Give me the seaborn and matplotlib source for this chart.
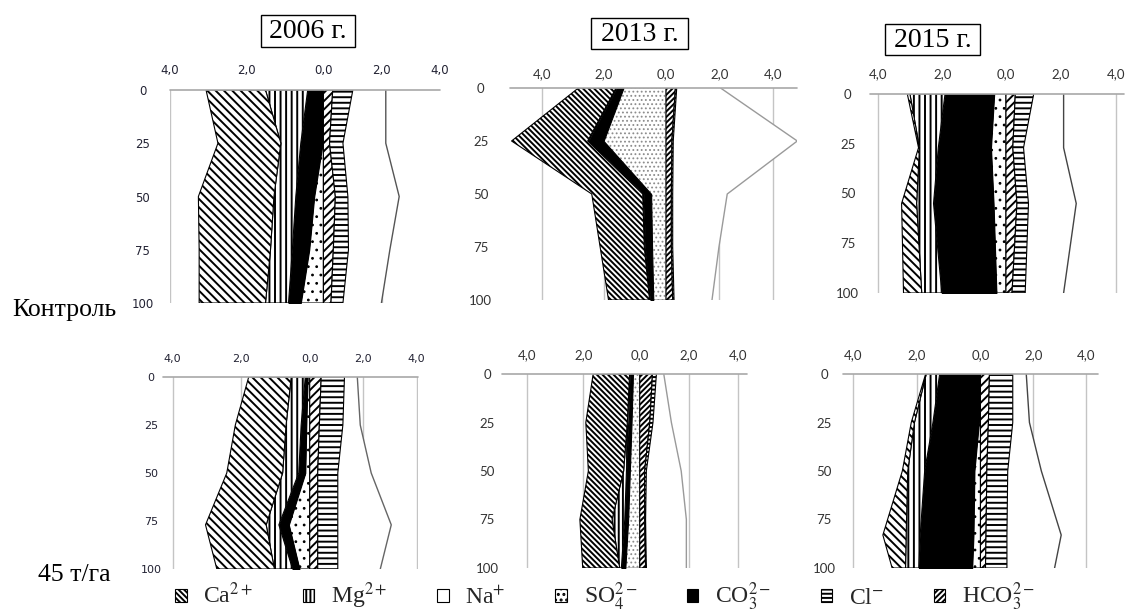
import numpy as np
import pandas as pd
import matplotlib
matplotlib.use("Agg")
import matplotlib.pyplot as plt
import seaborn as sns
from matplotlib.patches import Patch, Rectangle
from matplotlib.ticker import FixedLocator, FuncFormatter

# ------------------------------------------------------------------ data
years = ["2006 г.", "2013 г.", "2015 г."]
row_labels = ["Контроль", "45 т/га"]
ion_keys = ["ca", "mg", "na", "so4", "co3", "cl", "hco3"]
ion_labels = [r"Ca$^{2+}$", r"Mg$^{2+}$", r"Na$^{+}$", r"SO$_4^{2-}$",
              r"CO$_3^{2-}$", r"Cl$^{-}$", r"HCO$_3^{2-}$"]
x_tick_values = [-4, -2, 0, 2, 4]
depth_ticks = [0, 25, 50, 75, 100]

# Контроль, 2006
depth_k06 = [0, 25, 50, 75, 100]
so4_k06 = [0.00, 0.02, 0.24, 0.37, 0.59]
co3_k06 = [0.41, 0.57, 0.48, 0.44, 0.32]
mg_k06 = [1.10, 0.52, 0.57, 0.57, 0.60]
ca_k06 = [1.55, 1.64, 1.97, 1.86, 1.73]
hco3_k06 = [0.32, 0.21, 0.41, 0.34, 0.26]
cl_k06 = [0.69, 0.46, 0.43, 0.52, 0.41]
na_k06 = [1.13, 1.47, 1.76, 1.42, 1.32]

# Контроль, 2013
depth_k13 = [0, 25, 50, 75, 100]
so4_k13 = [1.37, 2.01, 0.48, 0.45, 0.41]
co3_k13 = [0.21, 0.48, 0.24, 0.22, 0.09]
mg_k13 = [0.03, 0.03, 0.03, 0.03, 0.03]
ca_k13 = [1.21, 2.45, 1.64, 1.42, 1.32]
hco3_k13 = [0.35, 0.22, 0.20, 0.20, 0.25]
cl_k13 = [0.05, 0.05, 0.05, 0.05, 0.05]
na_k13 = [1.64, 4.64, 2.04, 1.73, 1.42]

# Контроль, 2015
depth_k15 = [0, 27, 55, 100]
so4_k15 = [0.37, 0.47, 0.39, 0.30]
co3_k15 = [1.54, 1.65, 1.88, 1.71]
mg_k15 = [1.10, 0.59, 0.53, 0.63]
ca_k15 = [0.08, 0.03, 0.47, 0.57]
hco3_k15 = [0.34, 0.25, 0.40, 0.22]
cl_k15 = [0.67, 0.39, 0.42, 0.48]
na_k15 = [1.09, 1.46, 1.74, 1.40]

# 45 т/га, 2006
depth_t06 = [0, 25, 50, 77, 100]
so4_t06 = [0.06, 0.10, 0.13, 0.61, 0.30]
co3_t06 = [0.07, 0.15, 0.19, 0.29, 0.20]
mg_t06 = [0.41, 0.44, 0.47, 0.37, 0.53]
ca_t06 = [1.24, 1.48, 1.63, 1.77, 1.68]
hco3_t06 = [0.43, 0.36, 0.30, 0.30, 0.30]
cl_t06 = [0.87, 0.88, 0.75, 0.75, 0.75]
na_t06 = [0.48, 0.65, 1.25, 2.00, 1.59]

# 45 т/га, 2013
depth_t13 = [0, 25, 50, 75, 100]
so4_t13 = [0.24, 0.29, 0.35, 0.41, 0.51]
co3_t13 = [0.09, 0.10, 0.12, 0.12, 0.14]
mg_t13 = [0.03, 0.05, 0.10, 0.45, 0.06]
ca_t13 = [1.29, 1.47, 1.25, 1.14, 1.31]
hco3_t13 = [0.52, 0.41, 0.20, 0.20, 0.24]
cl_t13 = [0.16, 0.13, 0.07, 0.04, 0.03]
na_t13 = [0.30, 0.75, 1.42, 1.66, 1.63]

# 45 т/га, 2015
depth_t15 = [0, 25, 50, 83, 100]
so4_t15 = [0.02, 0.05, 0.19, 0.22, 0.26]
co3_t15 = [1.26, 1.44, 1.56, 1.67, 1.67]
mg_t15 = [0.42, 0.58, 0.53, 0.44, 0.42]
ca_t15 = [0.02, 0.10, 0.17, 0.73, 0.42]
hco3_t15 = [0.34, 0.30, 0.24, 0.21, 0.19]
cl_t15 = [0.88, 0.92, 0.79, 0.79, 0.81]
na_t15 = [0.51, 0.63, 1.27, 2.05, 1.80]


def panel_frame(depth, ca, mg, na, so4, co3, cl, hco3):
    return pd.DataFrame({"depth": depth, "ca": ca, "mg": mg, "na": na, "so4": so4,
                         "co3": co3, "cl": cl, "hco3": hco3})


panels = {
    "k06": panel_frame(depth_k06, ca_k06, mg_k06, na_k06, so4_k06, co3_k06, cl_k06, hco3_k06),
    "k13": panel_frame(depth_k13, ca_k13, mg_k13, na_k13, so4_k13, co3_k13, cl_k13, hco3_k13),
    "k15": panel_frame(depth_k15, ca_k15, mg_k15, na_k15, so4_k15, co3_k15, cl_k15, hco3_k15),
    "t06": panel_frame(depth_t06, ca_t06, mg_t06, na_t06, so4_t06, co3_t06, cl_t06, hco3_t06),
    "t13": panel_frame(depth_t13, ca_t13, mg_t13, na_t13, so4_t13, co3_t13, cl_t13, hco3_t13),
    "t15": panel_frame(depth_t15, ca_t15, mg_t15, na_t15, so4_t15, co3_t15, cl_t15, hco3_t15),
}

# ------------------------------------------------------------------ layout / style
W, H = 1126, 616
layout = {
    "k06": dict(box=(170, 440, 90, 303), xlim=(-4.0, 4.0), R=0.76, font="DejaVu Sans", fs=8.5,
                xpad=9.4, ypad=19.5, na_color="#555555", dense=False, tcolor="#222233"),
    "k13": dict(box=(510, 797, 88, 300), xlim=(-5.02, 4.9), R=0.86, font="Lato", fs=9.5,
                xpad=5.8, ypad=21, na_color="#9a9a9a", dense=True, tcolor="#333333"),
    "k15": dict(box=(870, 1124, 94, 293), xlim=(-4.26, 4.3), R=0.86, font="Lato", fs=9.5,
                xpad=10, ypad=16, na_color="#444444", dense=False, tcolor="#333333"),
    "t06": dict(box=(163, 418, 377, 569), xlim=(-4.28, 4.05), R=0.78, font="DejaVu Sans", fs=8,
                xpad=9.4, ypad=8.6, na_color="#666666", dense=False, tcolor="#222233"),
    "t13": dict(box=(502, 747, 374, 568), xlim=(-4.88, 4.37), R=0.87, font="Lato", fs=9.5,
                xpad=9, ypad=10.8, na_color="#9a9a9a", dense=True, tcolor="#333333"),
    "t15": dict(box=(843, 1098, 374, 568), xlim=(-4.31, 4.44), R=0.83, font="Lato", fs=9.5,
                xpad=9, ypad=13.7, na_color="#444444", dense=False, tcolor="#333333"),
}

ion_style = {
    "ca": dict(fc="white", hatch="\\\\\\\\", dense_hatch="\\\\\\\\\\\\"),
    "mg": dict(fc="white", hatch="|||", dense_hatch="||||"),
    "na": dict(fc="white", hatch=None, dense_hatch=None),
    "so4": dict(fc="white", hatch="..", dense_hatch="...."),
    "co3": dict(fc="black", hatch=None, dense_hatch=None),
    "cl": dict(fc="white", hatch="---", dense_hatch="----"),
    "hco3": dict(fc="white", hatch="////", dense_hatch="//////"),
}

sns.set_theme(style="white")
plt.rcParams["font.family"] = ["Liberation Serif", "DejaVu Serif"]
plt.rcParams["mathtext.fontset"] = "stix"
plt.rcParams["hatch.linewidth"] = 1.4
plt.rcParams["hatch.color"] = "black"

fig = plt.figure(figsize=(W / 100, H / 100), dpi=100)
fig.patch.set_facecolor("white")


def make_scale(R):
    def fwd(x):
        x = np.asarray(x, dtype=float)
        return np.where(x < 0, x, x * R)

    def inv(y):
        y = np.asarray(y, dtype=float)
        return np.where(y < 0, y, y / R)
    return fwd, inv


def draw_panel(key):
    df = panels[key]
    cfg = layout[key]
    l, r, t, b = cfg["box"]
    ax = fig.add_axes([l / W, 1 - b / H, (r - l) / W, (b - t) / H])
    ax.set_facecolor("none")
    ax.set_xscale("function", functions=make_scale(cfg["R"]))
    ax.set_xlim(*cfg["xlim"])
    ax.set_ylim(100, 0)
    for s in ax.spines.values():
        s.set_visible(False)
    ax.grid(False)

    for gx in [-4, -2, 2, 4]:
        if cfg["xlim"][0] - 1e-6 <= gx < cfg["xlim"][1] - 0.02:
            ax.plot([gx, gx], [0, 100], color="#c4c4c4", lw=1.0, zorder=0)

    hkey = "dense_hatch" if cfg["dense"] else "hatch"
    d = df["depth"].to_numpy(dtype=float)
    inner = np.zeros_like(d)
    for ion in ["so4", "co3", "mg", "ca"]:
        outer = inner + df[ion].to_numpy(dtype=float)
        st = ion_style[ion]
        ec = "#8c8c8c" if (ion == "so4" and cfg["dense"]) else "black"
        with plt.rc_context({"hatch.color": ec,
                             "hatch.linewidth": 0.8 if ion == "so4" else 1.4}):
            ax.fill_betweenx(d, -inner, -outer, facecolor=st["fc"], edgecolor=ec,
                             hatch=st[hkey], lw=0.8, zorder=2)
        inner = outer
    inner = np.zeros_like(d)
    for ion in ["hco3", "cl", "na"]:
        outer = inner + df[ion].to_numpy(dtype=float)
        st = ion_style[ion]
        if ion == "na":
            ax.fill_betweenx(d, inner, outer, facecolor="white", edgecolor="none",
                             lw=0, zorder=1)
            sns.lineplot(x=outer, y=d, orient="y", sort=False, estimator=None, ax=ax,
                         color=cfg["na_color"], lw=1.0, zorder=3, legend=False)
        else:
            ax.fill_betweenx(d, inner, outer, facecolor=st["fc"], edgecolor="black",
                             hatch=st[hkey], lw=0.8, zorder=2)
        inner = outer

    ax.plot([cfg["xlim"][0], cfg["xlim"][1]], [0, 0], color="#a8a8a8", lw=1.2,
            zorder=4, clip_on=False)
    ax.set_xlim(*cfg["xlim"])
    ax.set_ylim(100, 0)

    ax.xaxis.tick_top()
    ax.xaxis.set_major_locator(FixedLocator(x_tick_values))
    ax.xaxis.set_major_formatter(FuncFormatter(lambda v, p: f"{abs(v):.1f}".replace(".", ",")))
    ax.yaxis.set_major_locator(FixedLocator(depth_ticks))
    ax.yaxis.set_major_formatter(FuncFormatter(lambda v, p: f"{int(v)}"))
    ax.tick_params(axis="x", length=0, pad=cfg["xpad"], labelsize=cfg["fs"],
                   labelcolor=cfg["tcolor"])
    ax.tick_params(axis="y", length=0, pad=cfg["ypad"], labelsize=cfg["fs"],
                   labelcolor=cfg["tcolor"])
    for lab in ax.get_xticklabels() + ax.get_yticklabels():
        lab.set_fontfamily(cfg["font"])
    for lab in ax.get_yticklabels():
        lab.set_horizontalalignment("center")
    ax.set_xlabel("")
    ax.set_ylabel("")
    return ax


for k in ["k06", "k13", "k15", "t06", "t13", "t15"]:
    draw_panel(k)

title_boxes = [(261, 355, 15, 47), (591, 688, 18, 49), (885, 980, 24, 55)]
for name, (l, r, t, b) in zip(years, title_boxes):
    fig.patches.append(Rectangle((l / W, 1 - b / H), (r - l) / W, (b - t) / H,
                                 transform=fig.transFigure, facecolor="white",
                                 edgecolor="black", lw=1.0, zorder=5))
    fig.text((l + r) / 2 / W, 1 - ((t + b) / 2 + 1) / H, name, ha="center", va="center",
             fontsize=20, color="black", zorder=6)

fig.text(12 / W, 1 - 316 / H, row_labels[0], ha="left", va="baseline", fontsize=18.5,
         color="black")
fig.text(38 / W, 1 - 581 / H, row_labels[1], ha="left", va="baseline", fontsize=18.5,
         color="black")

legend_hatch = {"ca": "\\\\\\\\\\\\", "mg": "||||", "na": None, "so4": "...",
                "co3": None, "cl": "----", "hco3": "//////"}
handles = [Patch(facecolor=ion_style[k]["fc"], edgecolor="black", hatch=legend_hatch[k],
                 lw=0.8) for k in ion_keys]
fig.legend(handles, ion_labels, loc="center", bbox_to_anchor=(605 / W, 1 - 597 / H),
           ncol=7, frameon=False, handlelength=0.5, handleheight=0.5,
           handletextpad=0.7, columnspacing=2.1, borderpad=0, borderaxespad=0,
           prop={"family": "Liberation Serif", "size": 17})

fig.savefig("out.png", dpi=100)
